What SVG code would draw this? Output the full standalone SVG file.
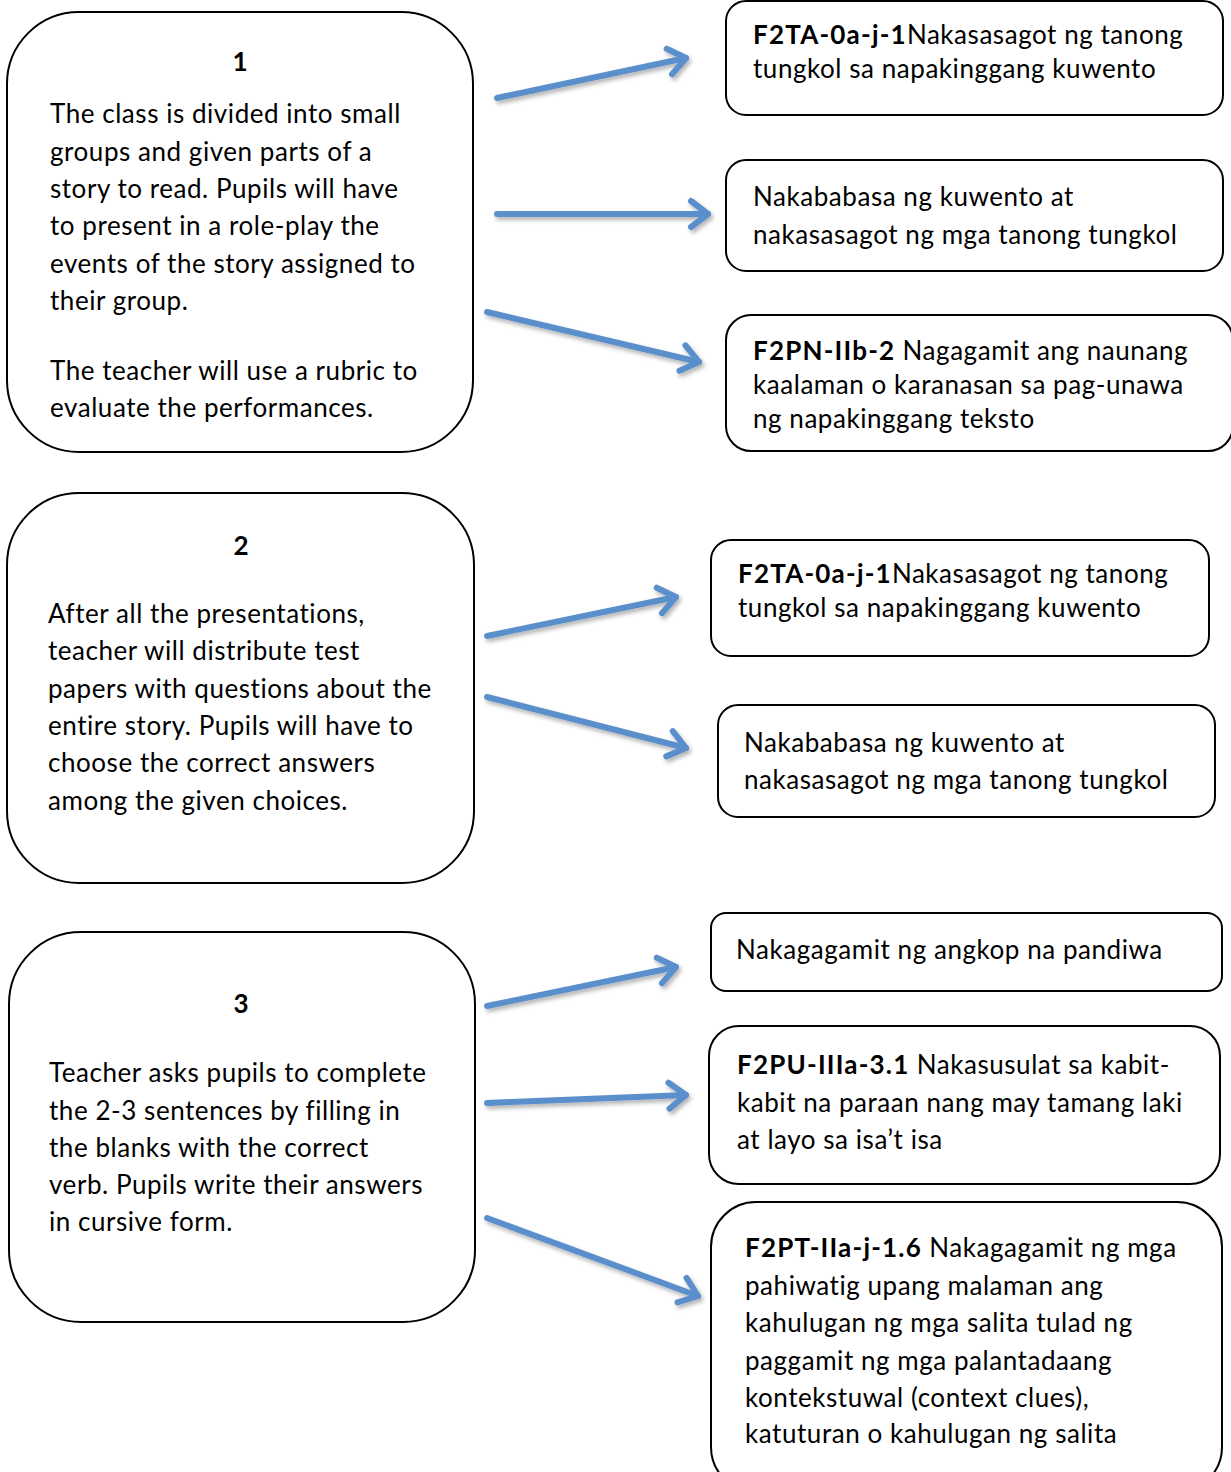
<svg xmlns="http://www.w3.org/2000/svg" width="1231" height="1472" viewBox="0 0 1231 1472">
  <style>
    .box { fill: #ffffff; stroke: #000000; stroke-width: 2; }
    .txt { font-family: Lato, "Open Sans", sans-serif; font-size: 26px; letter-spacing: 0.55px; fill: #000000; }
    .num { font-weight: bold; text-anchor: middle; letter-spacing: 0; }
    .b { font-weight: bold; letter-spacing: 1.2px; }
    .arrow { fill: none; stroke: #5a8fcb; stroke-width: 6; stroke-linecap: round; stroke-linejoin: round; }
  </style>
  <defs>
    <filter id="soft" x="-10%" y="-50%" width="120%" height="200%">
      <feDropShadow dx="2" dy="3" stdDeviation="2" flood-color="#000000" flood-opacity="0.3"/>
    </filter>
    <marker id="head" markerUnits="userSpaceOnUse" markerWidth="40" markerHeight="40" refX="0" refY="0" viewBox="-30 -20 40 40" orient="auto" overflow="visible">
      <path d="M-17,-13 L0,0 L-17,13" fill="none" stroke="#5a8fcb" stroke-width="6" stroke-linecap="round" stroke-linejoin="round"/>
    </marker>
  </defs>

  <!-- activity boxes -->
  <g id="activity1">
    <rect class="box" x="7" y="12" width="466" height="440" rx="72"/>
    <text class="txt num" x="240" y="71">1</text>
    <text class="txt">
      <tspan x="50" y="123">The class is divided into small</tspan>
      <tspan x="50" y="160.5">groups and given parts of a</tspan>
      <tspan x="50" y="198">story to read. Pupils will have</tspan>
      <tspan x="50" y="235">to present in a role-play the</tspan>
      <tspan x="50" y="272.5">events of the story assigned to</tspan>
      <tspan x="50" y="310">their group.</tspan>
      <tspan x="50" y="380">The teacher will use a rubric to</tspan>
      <tspan x="50" y="417">evaluate the performances.</tspan>
    </text>
  </g>

  <g id="activity2">
    <rect class="box" x="7" y="493" width="467" height="390" rx="72"/>
    <text class="txt num" x="241" y="555">2</text>
    <text class="txt">
      <tspan x="48" y="623">After all the presentations,</tspan>
      <tspan x="48" y="660">teacher will distribute test</tspan>
      <tspan x="48" y="697.5">papers with questions about the</tspan>
      <tspan x="48" y="735">entire story. Pupils will have to</tspan>
      <tspan x="48" y="772">choose the correct answers</tspan>
      <tspan x="48" y="809.5">among the given choices.</tspan>
    </text>
  </g>

  <g id="activity3">
    <rect class="box" x="9" y="932" width="466" height="390" rx="72"/>
    <text class="txt num" x="241" y="1013">3</text>
    <text class="txt">
      <tspan x="49" y="1082">Teacher asks pupils to complete</tspan>
      <tspan x="49" y="1119.5">the 2-3 sentences by filling in</tspan>
      <tspan x="49" y="1157">the blanks with the correct</tspan>
      <tspan x="49" y="1194">verb. Pupils write their answers</tspan>
      <tspan x="49" y="1231">in cursive form.</tspan>
    </text>
  </g>

  <!-- competency boxes -->
  <g id="comp1a">
    <rect class="box" x="726" y="1" width="497" height="114" rx="20"/>
    <text class="txt" x="753" y="44"><tspan class="b">F2TA-0a-j-1</tspan>Nakasasagot ng tanong</text>
    <text class="txt" x="753" y="78">tungkol sa napakinggang kuwento</text>
  </g>

  <g id="comp1b">
    <rect class="box" x="726" y="160" width="497" height="111" rx="20"/>
    <text class="txt" x="753" y="206">Nakababasa ng kuwento at</text>
    <text class="txt" x="753" y="244">nakasasagot ng mga tanong tungkol</text>
  </g>

  <g id="comp1c">
    <rect class="box" x="726" y="315" width="507" height="136" rx="25"/>
    <text class="txt" x="753" y="360"><tspan class="b">F2PN-IIb-2</tspan> Nagagamit ang naunang</text>
    <text class="txt" x="753" y="394">kaalaman o karanasan sa pag-unawa</text>
    <text class="txt" x="753" y="428">ng napakinggang teksto</text>
  </g>

  <g id="comp2a">
    <rect class="box" x="711" y="540" width="498" height="116" rx="20"/>
    <text class="txt" x="738" y="583"><tspan class="b">F2TA-0a-j-1</tspan>Nakasasagot ng tanong</text>
    <text class="txt" x="738" y="617">tungkol sa napakinggang kuwento</text>
  </g>

  <g id="comp2b">
    <rect class="box" x="718" y="705" width="497" height="112" rx="20"/>
    <text class="txt" x="744" y="752">Nakababasa ng kuwento at</text>
    <text class="txt" x="744" y="789">nakasasagot ng mga tanong tungkol</text>
  </g>

  <g id="comp3a">
    <rect class="box" x="711" y="913" width="511" height="78" rx="15"/>
    <text class="txt" x="736" y="959">Nakagagamit ng angkop na pandiwa</text>
  </g>

  <g id="comp3b">
    <rect class="box" x="709" y="1026" width="511" height="158" rx="30"/>
    <text class="txt" x="737" y="1074"><tspan class="b">F2PU-IIIa-3.1</tspan> Nakasusulat sa kabit-</text>
    <text class="txt" x="737" y="1112">kabit na paraan nang may tamang laki</text>
    <text class="txt" x="737" y="1149">at layo sa isa’t isa</text>
  </g>

  <g id="comp3c">
    <rect class="box" x="711" y="1202" width="511" height="290" rx="45"/>
    <text class="txt" x="745" y="1257"><tspan class="b">F2PT-IIa-j-1.6</tspan> Nakagagamit ng mga</text>
    <text class="txt" x="745" y="1295">pahiwatig upang malaman ang</text>
    <text class="txt" x="745" y="1332">kahulugan ng mga salita tulad ng</text>
    <text class="txt" x="745" y="1370">paggamit ng mga palantadaang</text>
    <text class="txt" x="745" y="1407">kontekstuwal (context clues),</text>
    <text class="txt" x="745" y="1443">katuturan o kahulugan ng salita</text>
  </g>

  <!-- connectors -->
  <g id="connectors" filter="url(#soft)">
    <path class="arrow" d="M497,98 L686,58" marker-end="url(#head)"/>
    <path class="arrow" d="M497,214 L708,214" marker-end="url(#head)"/>
    <path class="arrow" d="M487,312 L699,362" marker-end="url(#head)"/>
    <path class="arrow" d="M487,636 L676,597" marker-end="url(#head)"/>
    <path class="arrow" d="M487,697 L686,748" marker-end="url(#head)"/>
    <path class="arrow" d="M487,1006 L676,967" marker-end="url(#head)"/>
    <path class="arrow" d="M487,1103 L686,1095" marker-end="url(#head)"/>
    <path class="arrow" d="M487,1218 L698,1296" marker-end="url(#head)"/>
  </g>
</svg>
